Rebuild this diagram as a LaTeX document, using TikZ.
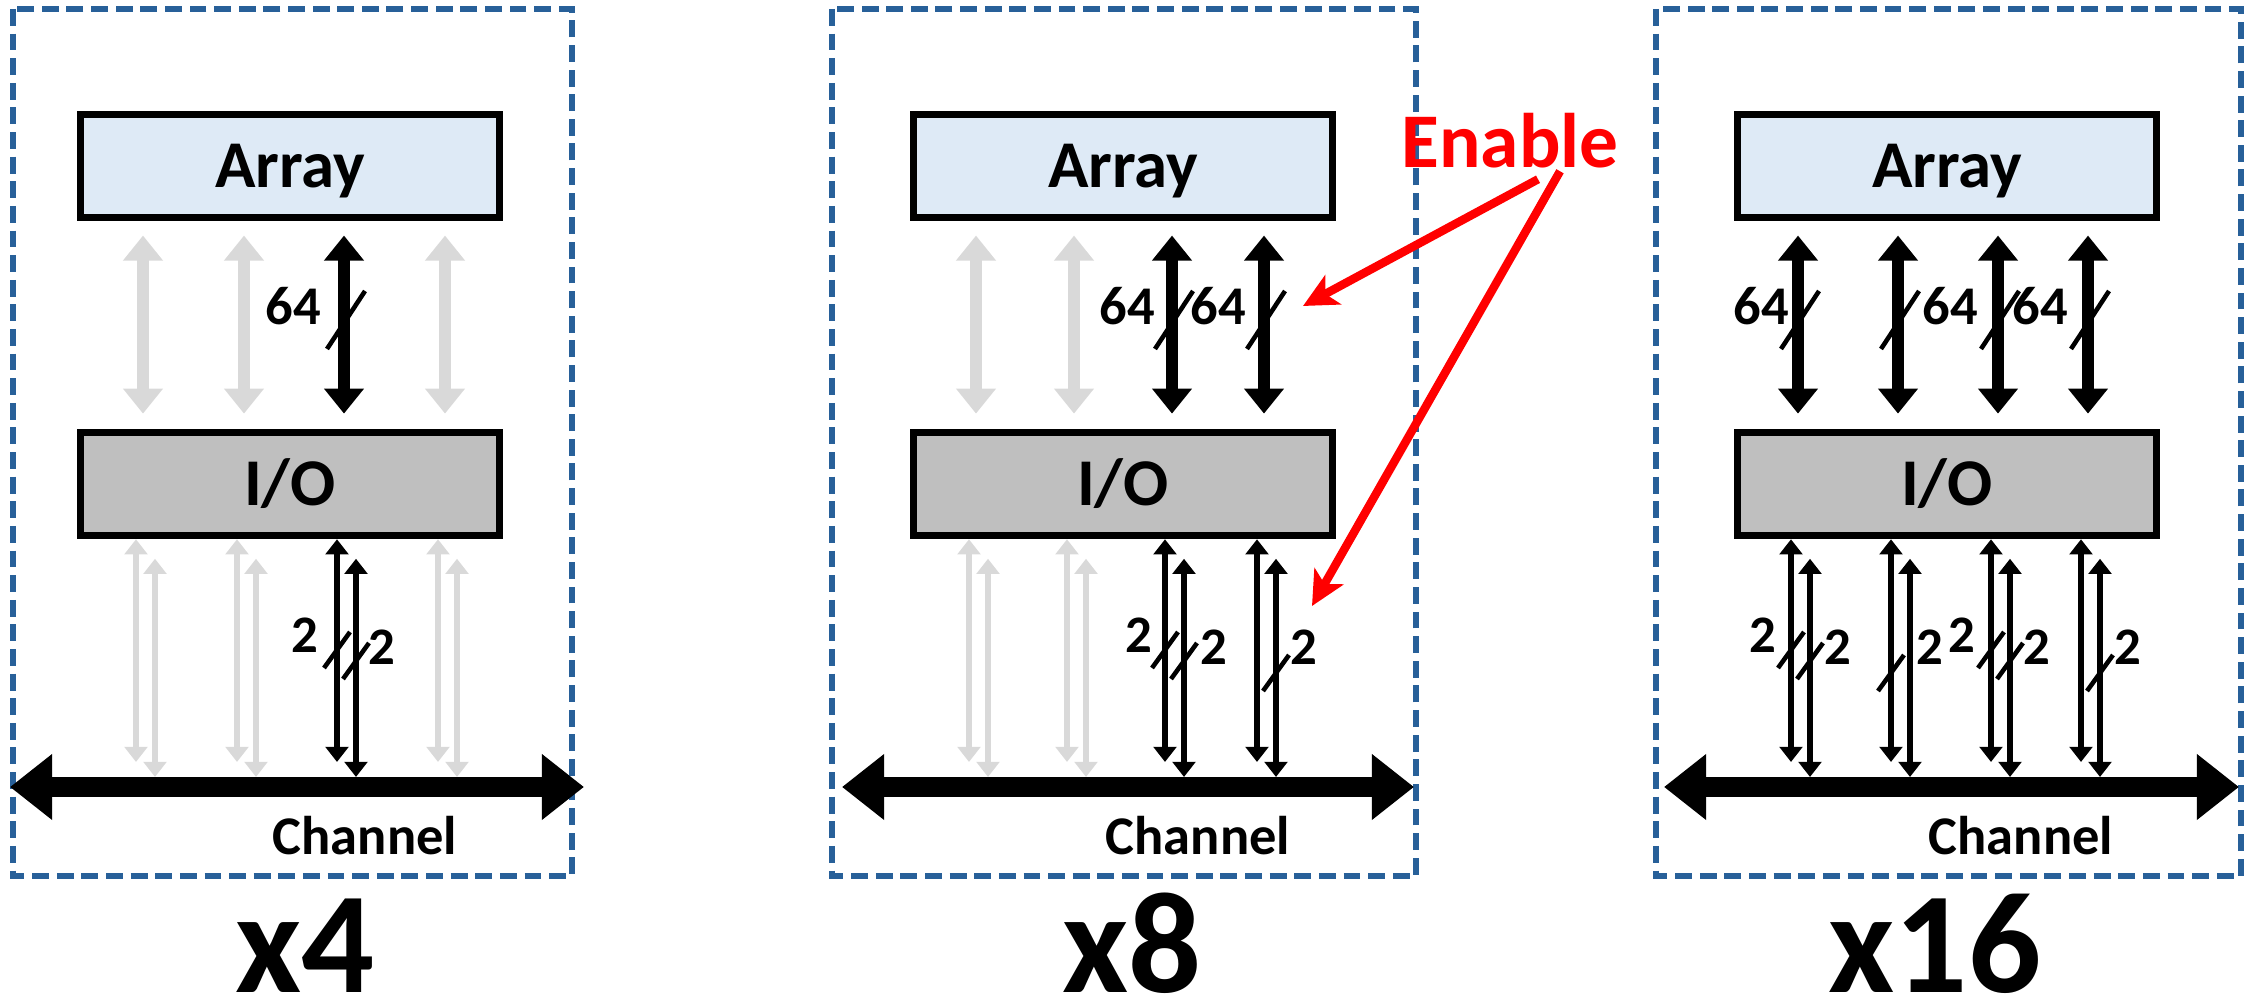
\documentclass[tikz,border=0pt]{standalone}
\usepackage{fontspec}
\setmainfont{Carlito}
\usetikzlibrary{positioning,arrows.meta}

\definecolor{panelblue}{RGB}{40,96,153}
\definecolor{arrayblue}{RGB}{222,234,246}
\definecolor{iogray}{RGB}{191,191,191}
\definecolor{offgray}{RGB}{217,217,217}

\begin{document}
\begin{tikzpicture}[x=0.01cm, y=-0.01cm,
  every node/.style = {font = \bfseries, inner sep = 0pt},
  panel/.style = {draw=panelblue, line width=1.5pt, dash pattern=on 4.8pt off 2.2pt},
  box/.style = {rectangle, draw=black, line width=2pt, minimum width=4.18cm,
    minimum height=1.03cm, text height=12pt, text depth=0pt,
    font=\bfseries\fontsize{19}{19}\selectfont},
  arraybox/.style = {box, fill=arrayblue},
  iobox/.style = {box, fill=iogray},
  bus/.style = {<->, >={Triangle[width=10.9pt,length=7.1pt]}, line width=3.3pt,
    shorten <=0.145cm, shorten >=0.155cm},
  wire/.style = {<->, >={Triangle[width=6.4pt,length=4.3pt]}, line width=1.6pt},
  wiretop/.style = {wire, shorten >=0.25cm},
  wirebot/.style = {wire, shorten <=0.195cm, shorten >=0.1cm},
  channel/.style = {<->, >={Triangle[width=18pt,length=12pt]}, line width=5.7pt},
  tick/.style = {line width=1.3pt},
  buslabel/.style = {anchor=base, font=\bfseries\fontsize{15.5}{15.5}\selectfont},
  wirelabel/.style = {anchor=base, font=\bfseries\fontsize{15}{15}\selectfont},
  chlabel/.style = {anchor=base, font=\bfseries\fontsize{15.5}{15.5}\selectfont},
  modelabel/.style = {anchor=base, font=\bfseries\fontsize{41}{41}\selectfont},
  enabletext/.style = {anchor=base, text=red, font=\bfseries\fontsize{22}{22}\selectfont},
  enable/.style = {->, >={Stealth[length=9.7pt,width=9.4pt,inset=2.5pt]}, draw=red, line width=2.4pt}]

  \useasboundingbox (0,0) rectangle (2247,998);

  % x4
  \draw[panel] (13,9) rectangle (572,876);
  \node[arraybox] (A1) at (290,166) {Array};
  \node[iobox, below = 2.08cm of A1] (IO1) {I/O};
  \coordinate (CL1) at (10,787);
  \coordinate (CR1) at (584,787);
  \path[bus, offgray] (143,0 |- A1.south) edge (143,0 |- IO1.north)
    (244,0 |- A1.south) edge (244,0 |- IO1.north)
    (445,0 |- A1.south) edge (445,0 |- IO1.north);
  \path[bus] (344,0 |- A1.south) edge (344,0 |- IO1.north);
  \path[wiretop, offgray] (136,0 |- IO1.south) edge (136,0 |- CL1)
    (237,0 |- IO1.south) edge (237,0 |- CL1)
    (438,0 |- IO1.south) edge (438,0 |- CL1);
  \path[wirebot, offgray] (155,0 |- IO1.south) edge (155,0 |- CL1)
    (256,0 |- IO1.south) edge (256,0 |- CL1)
    (457,0 |- IO1.south) edge (457,0 |- CL1);
  \path[wiretop] (337,0 |- IO1.south) edge (337,0 |- CL1);
  \path[wirebot] (356,0 |- IO1.south) edge (356,0 |- CL1);
  \draw[channel] (CL1) -- (CR1);
  \node[buslabel] (w11) at (293,325) {64};
  \draw[tick] (327,349) -- (365,291);
  \node[wirelabel] (w12) at (305,653) {2};
  \node[wirelabel] (w13) at (382,665) {2};
  \draw[tick] (324,668) -- (350,632);
  \draw[tick] (343,679) -- (369,643);
  \node[chlabel] (ch1) at (365,855) {Channel};
  \node[modelabel] (m1) at (305,993) {x4};

  % x8
  \draw[panel] (832,9) rectangle (1416,876);
  \node[arraybox] (A2) at (1123,166) {Array};
  \node[iobox, below = 2.08cm of A2] (IO2) {I/O};
  \coordinate (CL2) at (842,787);
  \coordinate (CR2) at (1414,787);
  \path[bus, offgray] (976,0 |- A2.south) edge (976,0 |- IO2.north)
    (1074,0 |- A2.south) edge (1074,0 |- IO2.north);
  \path[bus] (1172,0 |- A2.south) edge (1172,0 |- IO2.north)
    (1264,0 |- A2.south) edge (1264,0 |- IO2.north);
  \path[wiretop, offgray] (969,0 |- IO2.south) edge (969,0 |- CL2)
    (1067,0 |- IO2.south) edge (1067,0 |- CL2);
  \path[wirebot, offgray] (988,0 |- IO2.south) edge (988,0 |- CL2)
    (1086,0 |- IO2.south) edge (1086,0 |- CL2);
  \path[wiretop] (1165,0 |- IO2.south) edge (1165,0 |- CL2)
    (1257,0 |- IO2.south) edge (1257,0 |- CL2);
  \path[wirebot] (1184,0 |- IO2.south) edge (1184,0 |- CL2)
    (1276,0 |- IO2.south) edge (1276,0 |- CL2);
  \draw[channel] (CL2) -- (CR2);
  \node[buslabel] (w21) at (1127,325) {64};
  \node[buslabel] (w22) at (1218,325) {64};
  \draw[tick] (1155,349) -- (1193,291);
  \draw[tick] (1247,349) -- (1285,291);
  \node[wirelabel] (w23) at (1139,653) {2};
  \node[wirelabel] (w24) at (1214,665) {2};
  \node[wirelabel] (w25) at (1304,665) {2};
  \draw[tick] (1152,668) -- (1178,632);
  \draw[tick] (1171,679) -- (1197,643);
  \draw[tick] (1263,691) -- (1289,655);
  \node[chlabel] (ch2) at (1198,855) {Channel};
  \node[modelabel] (m2) at (1132,993) {x8};

  % x16
  \draw[panel] (1656,9) rectangle (2241,876);
  \node[arraybox] (A3) at (1947,166) {Array};
  \node[iobox, below = 2.08cm of A3] (IO3) {I/O};
  \coordinate (CL3) at (1664,787);
  \coordinate (CR3) at (2239,787);
  \path[bus] (1798,0 |- A3.south) edge (1798,0 |- IO3.north)
    (1898,0 |- A3.south) edge (1898,0 |- IO3.north)
    (1998,0 |- A3.south) edge (1998,0 |- IO3.north)
    (2088,0 |- A3.south) edge (2088,0 |- IO3.north);
  \path[wiretop] (1791,0 |- IO3.south) edge (1791,0 |- CL3)
    (1891,0 |- IO3.south) edge (1891,0 |- CL3)
    (1991,0 |- IO3.south) edge (1991,0 |- CL3)
    (2081,0 |- IO3.south) edge (2081,0 |- CL3);
  \path[wirebot] (1810,0 |- IO3.south) edge (1810,0 |- CL3)
    (1910,0 |- IO3.south) edge (1910,0 |- CL3)
    (2010,0 |- IO3.south) edge (2010,0 |- CL3)
    (2100,0 |- IO3.south) edge (2100,0 |- CL3);
  \draw[channel] (CL3) -- (CR3);
  \node[buslabel] (w31) at (1761,325) {64};
  \node[buslabel] (w32) at (1950,325) {64};
  \node[buslabel] (w33) at (2040,325) {64};
  \draw[tick] (1781,349) -- (1819,291);
  \draw[tick] (1881,349) -- (1919,291);
  \draw[tick] (1981,349) -- (2019,291);
  \draw[tick] (2071,349) -- (2109,291);
  \node[wirelabel] (w34) at (1763,653) {2};
  \node[wirelabel] (w35) at (1838,665) {2};
  \node[wirelabel] (w36) at (1930,665) {2};
  \node[wirelabel] (w37) at (1962,653) {2};
  \node[wirelabel] (w38) at (2037,665) {2};
  \node[wirelabel] (w39) at (2128,665) {2};
  \draw[tick] (1778,668) -- (1804,632);
  \draw[tick] (1797,679) -- (1823,643);
  \draw[tick] (1878,691) -- (1904,655);
  \draw[tick] (1978,668) -- (2004,632);
  \draw[tick] (1997,679) -- (2023,643);
  \draw[tick] (2087,691) -- (2113,655);
  \node[chlabel] (ch3) at (2021,855) {Channel};
  \node[modelabel] (m3) at (1935,993) {x16};

  % enable
  \node[enabletext] (en) at (1510,168) {Enable};
  \coordinate (t1) at (1303,306);
  \coordinate (t2) at (1312,606);
  \draw[enable] ([xshift=0.28cm,yshift=-0.1cm]en.south) -- (t1);
  \draw[enable] ([xshift=0.5cm,yshift=-0.02cm]en.south) -- (t2);

\end{tikzpicture}
\end{document}
